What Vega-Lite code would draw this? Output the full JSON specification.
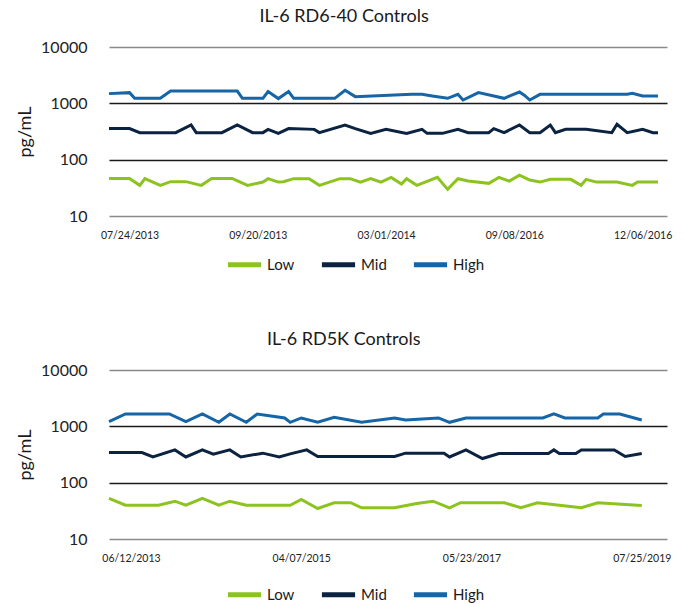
{
  "$schema": "https://vega.github.io/schema/vega-lite/v6.json",
  "padding": {"top": 8, "left": 16, "right": 8, "bottom": 2},
  "background": "white",
  "config": {
    "view": {"stroke": null},
    "font": "Lato",
    "axis": {"labelFont": "Lato", "titleFont": "Lato"},
    "legend": {"labelFont": "Lato"}
  },
  "datasets": {
    "rd640": [
      {"run":0,"level":"High","pgml":1487},{"run":4,"level":"High","pgml":1549},{"run":5,"level":"High","pgml":1227},{"run":10,"level":"High","pgml":1227},{"run":12,"level":"High","pgml":1653},{"run":25,"level":"High","pgml":1653},{"run":26,"level":"High","pgml":1227},{"run":30,"level":"High","pgml":1227},{"run":31,"level":"High","pgml":1614},{"run":33,"level":"High","pgml":1213},{"run":35,"level":"High","pgml":1614},{"run":36,"level":"High","pgml":1227},{"run":44,"level":"High","pgml":1227},{"run":46,"level":"High","pgml":1702},{"run":48,"level":"High","pgml":1315},{"run":59,"level":"High","pgml":1445},{"run":61,"level":"High","pgml":1445},{"run":63,"level":"High","pgml":1348},{"run":66,"level":"High","pgml":1227},{"run":68,"level":"High","pgml":1445},{"run":69,"level":"High","pgml":1145},{"run":72,"level":"High","pgml":1549},{"run":75,"level":"High","pgml":1348},{"run":77,"level":"High","pgml":1227},{"run":78,"level":"High","pgml":1348},{"run":80,"level":"High","pgml":1590},{"run":81,"level":"High","pgml":1380},{"run":82,"level":"High","pgml":1145},{"run":84,"level":"High","pgml":1445},{"run":101,"level":"High","pgml":1445},{"run":102,"level":"High","pgml":1505},{"run":104,"level":"High","pgml":1348},{"run":107,"level":"High","pgml":1348},
      {"run":0,"level":"Mid","pgml":356},{"run":4,"level":"Mid","pgml":356},{"run":6,"level":"Mid","pgml":302},{"run":13,"level":"Mid","pgml":302},{"run":16,"level":"Mid","pgml":412},{"run":17,"level":"Mid","pgml":302},{"run":22,"level":"Mid","pgml":302},{"run":25,"level":"Mid","pgml":412},{"run":28,"level":"Mid","pgml":302},{"run":30,"level":"Mid","pgml":302},{"run":31,"level":"Mid","pgml":345},{"run":33,"level":"Mid","pgml":293},{"run":35,"level":"Mid","pgml":356},{"run":40,"level":"Mid","pgml":345},{"run":41,"level":"Mid","pgml":302},{"run":46,"level":"Mid","pgml":412},{"run":48,"level":"Mid","pgml":356},{"run":51,"level":"Mid","pgml":293},{"run":54,"level":"Mid","pgml":345},{"run":58,"level":"Mid","pgml":293},{"run":61,"level":"Mid","pgml":345},{"run":62,"level":"Mid","pgml":293},{"run":65,"level":"Mid","pgml":293},{"run":68,"level":"Mid","pgml":345},{"run":70,"level":"Mid","pgml":302},{"run":74,"level":"Mid","pgml":302},{"run":75,"level":"Mid","pgml":356},{"run":77,"level":"Mid","pgml":302},{"run":80,"level":"Mid","pgml":412},{"run":82,"level":"Mid","pgml":302},{"run":84,"level":"Mid","pgml":302},{"run":86,"level":"Mid","pgml":412},{"run":87,"level":"Mid","pgml":302},{"run":89,"level":"Mid","pgml":345},{"run":93,"level":"Mid","pgml":345},{"run":98,"level":"Mid","pgml":302},{"run":99,"level":"Mid","pgml":424},{"run":101,"level":"Mid","pgml":302},{"run":104,"level":"Mid","pgml":345},{"run":106,"level":"Mid","pgml":302},{"run":107,"level":"Mid","pgml":302},
      {"run":0,"level":"Low","pgml":46.5},{"run":4,"level":"Low","pgml":46.5},{"run":6,"level":"Low","pgml":35},{"run":7,"level":"Low","pgml":46},{"run":10,"level":"Low","pgml":35},{"run":12,"level":"Low","pgml":40.7},{"run":15,"level":"Low","pgml":40.7},{"run":18,"level":"Low","pgml":35},{"run":20,"level":"Low","pgml":46.5},{"run":24,"level":"Low","pgml":46.5},{"run":27,"level":"Low","pgml":35},{"run":30,"level":"Low","pgml":40},{"run":31,"level":"Low","pgml":46},{"run":33,"level":"Low","pgml":40},{"run":34,"level":"Low","pgml":40.7},{"run":36,"level":"Low","pgml":46},{"run":39,"level":"Low","pgml":46},{"run":41,"level":"Low","pgml":35},{"run":45,"level":"Low","pgml":46},{"run":47,"level":"Low","pgml":46},{"run":49,"level":"Low","pgml":40},{"run":51,"level":"Low","pgml":46},{"run":53,"level":"Low","pgml":40},{"run":55,"level":"Low","pgml":48.5},{"run":57,"level":"Low","pgml":36.9},{"run":58,"level":"Low","pgml":46},{"run":60,"level":"Low","pgml":35},{"run":64,"level":"Low","pgml":48.5},{"run":66,"level":"Low","pgml":29.7},{"run":68,"level":"Low","pgml":46},{"run":70,"level":"Low","pgml":41.7},{"run":74,"level":"Low","pgml":38},{"run":76,"level":"Low","pgml":48.5},{"run":78,"level":"Low","pgml":41.7},{"run":80,"level":"Low","pgml":53.2},{"run":82,"level":"Low","pgml":43.4},{"run":84,"level":"Low","pgml":40},{"run":86,"level":"Low","pgml":44.7},{"run":90,"level":"Low","pgml":44.7},{"run":92,"level":"Low","pgml":35},{"run":93,"level":"Low","pgml":44.7},{"run":95,"level":"Low","pgml":40},{"run":99,"level":"Low","pgml":40},{"run":102,"level":"Low","pgml":35},{"run":103,"level":"Low","pgml":40},{"run":107,"level":"Low","pgml":40}
    ],
    "rd5k": [
      {"run":0,"level":"High","pgml":1208},{"run":3,"level":"High","pgml":1658},{"run":11,"level":"High","pgml":1658},{"run":14,"level":"High","pgml":1208},{"run":17,"level":"High","pgml":1658},{"run":20,"level":"High","pgml":1179},{"run":22,"level":"High","pgml":1658},{"run":25,"level":"High","pgml":1179},{"run":27,"level":"High","pgml":1658},{"run":32,"level":"High","pgml":1407},{"run":33,"level":"High","pgml":1179},{"run":35,"level":"High","pgml":1407},{"run":38,"level":"High","pgml":1179},{"run":41,"level":"High","pgml":1448},{"run":46,"level":"High","pgml":1179},{"run":52,"level":"High","pgml":1407},{"run":54,"level":"High","pgml":1296},{"run":60,"level":"High","pgml":1407},{"run":62,"level":"High","pgml":1179},{"run":65,"level":"High","pgml":1407},{"run":79,"level":"High","pgml":1407},{"run":81,"level":"High","pgml":1658},{"run":83,"level":"High","pgml":1407},{"run":89,"level":"High","pgml":1407},{"run":90,"level":"High","pgml":1658},{"run":93,"level":"High","pgml":1658},{"run":97,"level":"High","pgml":1296},
      {"run":0,"level":"Mid","pgml":343},{"run":6,"level":"Mid","pgml":343},{"run":8,"level":"Mid","pgml":286},{"run":12,"level":"Mid","pgml":382},{"run":14,"level":"Mid","pgml":286},{"run":17,"level":"Mid","pgml":382},{"run":19,"level":"Mid","pgml":320},{"run":22,"level":"Mid","pgml":382},{"run":24,"level":"Mid","pgml":286},{"run":28,"level":"Mid","pgml":334},{"run":31,"level":"Mid","pgml":286},{"run":33,"level":"Mid","pgml":325},{"run":36,"level":"Mid","pgml":382},{"run":38,"level":"Mid","pgml":291},{"run":52,"level":"Mid","pgml":291},{"run":54,"level":"Mid","pgml":334},{"run":61,"level":"Mid","pgml":334},{"run":62,"level":"Mid","pgml":286},{"run":65,"level":"Mid","pgml":382},{"run":68,"level":"Mid","pgml":268},{"run":71,"level":"Mid","pgml":330},{"run":80,"level":"Mid","pgml":330},{"run":81,"level":"Mid","pgml":382},{"run":82,"level":"Mid","pgml":330},{"run":85,"level":"Mid","pgml":330},{"run":86,"level":"Mid","pgml":382},{"run":92,"level":"Mid","pgml":382},{"run":94,"level":"Mid","pgml":291},{"run":97,"level":"Mid","pgml":330},
      {"run":0,"level":"Low","pgml":52.5},{"run":3,"level":"Low","pgml":39.8},{"run":9,"level":"Low","pgml":39.8},{"run":12,"level":"Low","pgml":46.9},{"run":14,"level":"Low","pgml":39.8},{"run":17,"level":"Low","pgml":52.5},{"run":20,"level":"Low","pgml":39.8},{"run":22,"level":"Low","pgml":46.9},{"run":25,"level":"Low","pgml":39.8},{"run":33,"level":"Low","pgml":39.8},{"run":35,"level":"Low","pgml":50.3},{"run":38,"level":"Low","pgml":34.8},{"run":41,"level":"Low","pgml":44},{"run":44,"level":"Low","pgml":44},{"run":46,"level":"Low","pgml":35.8},{"run":52,"level":"Low","pgml":35.8},{"run":56,"level":"Low","pgml":42.7},{"run":59,"level":"Low","pgml":46.9},{"run":62,"level":"Low","pgml":35.8},{"run":64,"level":"Low","pgml":44},{"run":72,"level":"Low","pgml":44},{"run":75,"level":"Low","pgml":35.8},{"run":78,"level":"Low","pgml":44},{"run":86,"level":"Low","pgml":35.8},{"run":89,"level":"Low","pgml":44},{"run":97,"level":"Low","pgml":39.4}
    ]
  },
  "vconcat": [
    {
      "data": {"name": "rd640"},
      "title": {"text": "IL-6 RD6-40 Controls", "frame": "bounds", "anchor": "middle", "fontSize": 18, "fontWeight": "normal", "color": "#1a1a1a", "offset": 13},
      "width": 558,
      "height": 169,
      "mark": {"type": "line", "strokeWidth": 3},
      "encoding": {
        "x": {"field": "run", "type": "quantitative", "scale": {"domain": [0, 108.75], "nice": false, "zero": false},
          "axis": {"title": null, "values": [4, 29, 54, 79, 104], "labelExpr": "datum.value == 4 ? '07/24/2013' : datum.value == 29 ? '09/20/2013' : datum.value == 54 ? '03/01/2014' : datum.value == 79 ? '09/08/2016' : '12/06/2016'", "grid": false, "ticks": false, "domain": false, "labelFontSize": 10.5, "labelColor": "#222", "labelPadding": 14}},
        "y": {"field": "pgml", "type": "quantitative", "scale": {"type": "log", "domain": [10, 10000], "nice": false},
          "axis": {"title": "pg/mL", "titleFontSize": 18, "titleFontWeight": "normal", "titleColor": "#1a1a1a", "titlePadding": 6, "values": [10, 100, 1000, 10000], "format": "d", "labelFontSize": 16, "labelColor": "#222", "labelPadding": 22, "domain": false, "ticks": false, "gridWidth": 1.5, "gridColor": {"condition": {"test": "datum.value == 100 || datum.value == 1000", "value": "#1a1a1a"}, "value": "#8a8a8a"}}},
        "color": {"field": "level", "type": "nominal", "scale": {"domain": ["Low", "Mid", "High"], "range": ["#8cc31e", "#0b2341", "#1565a7"]},
          "legend": {"title": null, "orient": "none", "legendX": 116, "legendY": 198, "direction": "horizontal", "symbolType": "stroke", "symbolStrokeWidth": 5, "symbolSize": 1100, "labelFontSize": 15, "labelColor": "#1a1a1a", "labelOffset": 3, "columnPadding": 16}}
      }
    },
    {
      "data": {"name": "rd5k"},
      "title": {"text": "IL-6 RD5K Controls", "frame": "bounds", "anchor": "middle", "fontSize": 18, "fontWeight": "normal", "color": "#1a1a1a", "offset": 13},
      "width": 558,
      "height": 169,
      "mark": {"type": "line", "strokeWidth": 3},
      "encoding": {
        "x": {"field": "run", "type": "quantitative", "scale": {"domain": [0, 101.6], "nice": false, "zero": false},
          "axis": {"title": null, "values": [4, 35, 66, 97], "labelExpr": "datum.value == 4 ? '06/12/2013' : datum.value == 35 ? '04/07/2015' : datum.value == 66 ? '05/23/2017' : '07/25/2019'", "grid": false, "ticks": false, "domain": false, "labelFontSize": 10.5, "labelColor": "#222", "labelPadding": 14}},
        "y": {"field": "pgml", "type": "quantitative", "scale": {"type": "log", "domain": [10, 10000], "nice": false},
          "axis": {"title": "pg/mL", "titleFontSize": 18, "titleFontWeight": "normal", "titleColor": "#1a1a1a", "titlePadding": 6, "values": [10, 100, 1000, 10000], "format": "d", "labelFontSize": 16, "labelColor": "#222", "labelPadding": 22, "domain": false, "ticks": false, "gridWidth": 1.5, "gridColor": {"condition": {"test": "datum.value == 100 || datum.value == 1000", "value": "#1a1a1a"}, "value": "#8a8a8a"}}},
        "color": {"field": "level", "type": "nominal", "scale": {"domain": ["Low", "Mid", "High"], "range": ["#8cc31e", "#0b2341", "#1565a7"]},
          "legend": {"title": null, "orient": "none", "legendX": 116, "legendY": 205, "direction": "horizontal", "symbolType": "stroke", "symbolStrokeWidth": 5, "symbolSize": 1100, "labelFontSize": 15, "labelColor": "#1a1a1a", "labelOffset": 3, "columnPadding": 16}}
      }
    }
  ],
  "spacing": 56,
  "resolve": {"scale": {"color": "independent"}, "legend": {"color": "independent"}}
}
